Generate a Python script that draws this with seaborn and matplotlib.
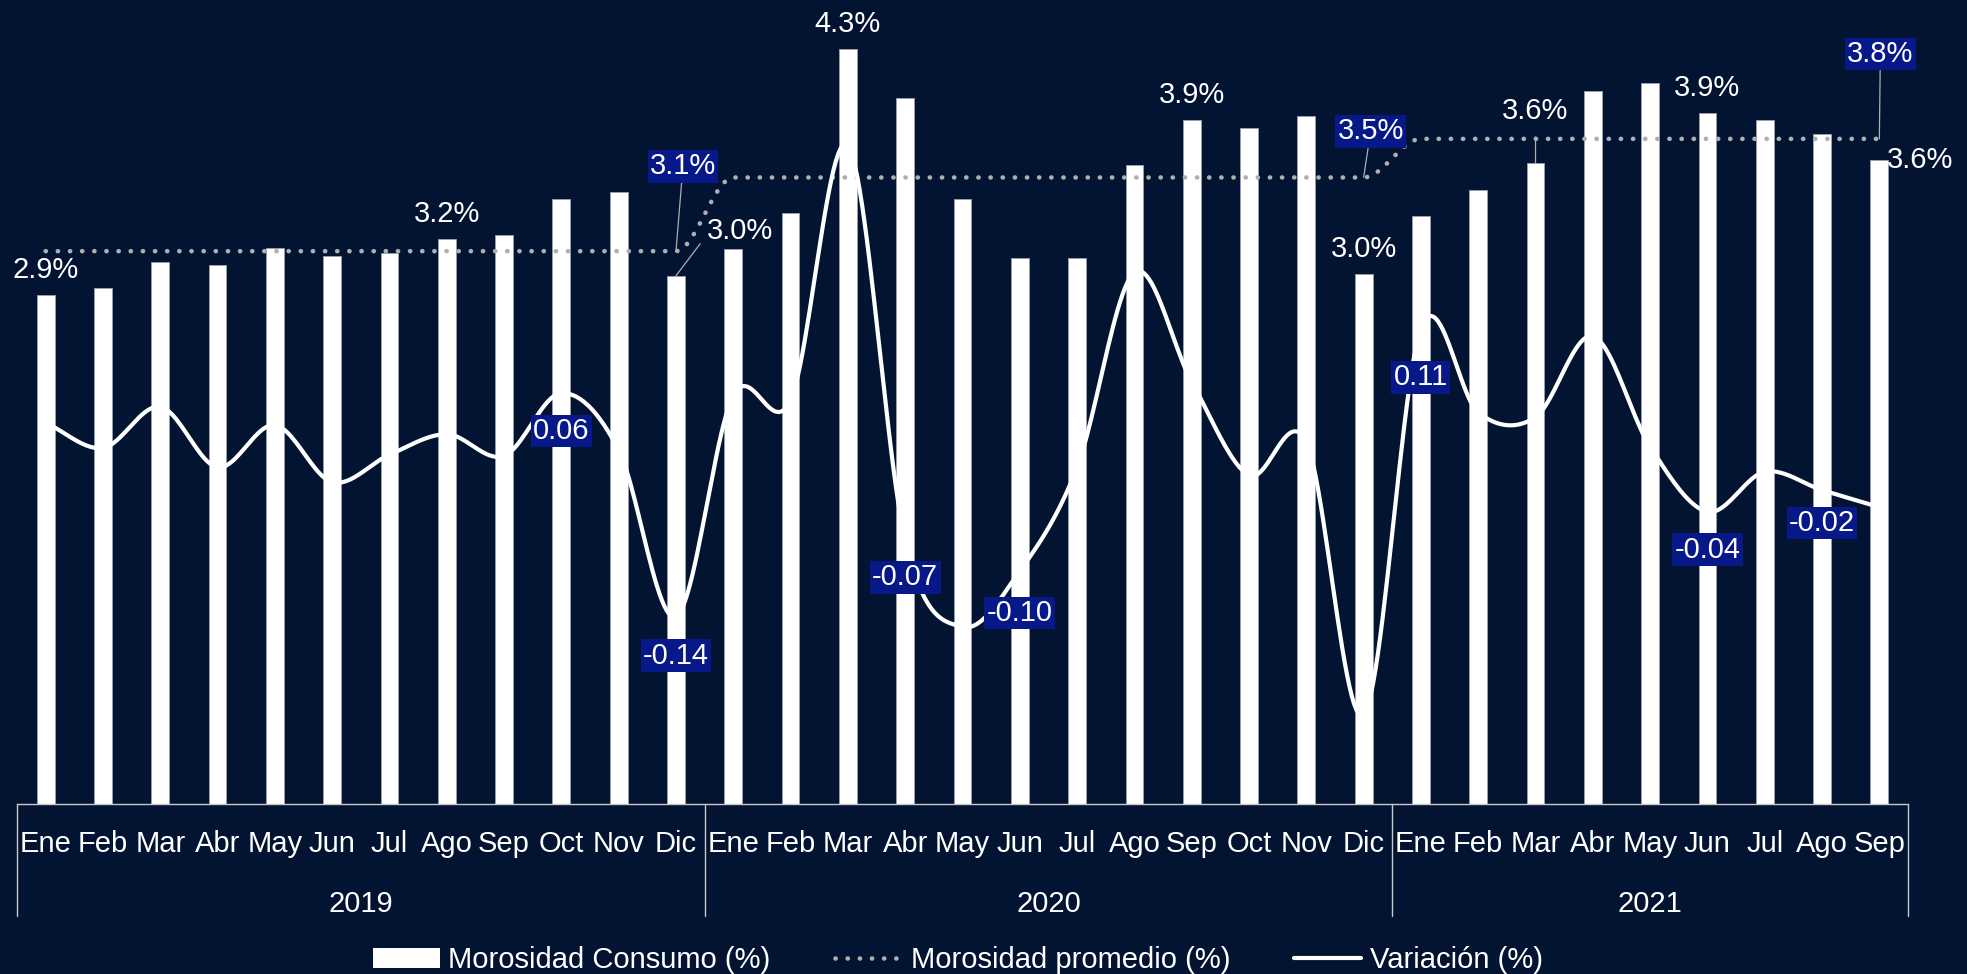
import numpy as np
import pandas as pd
import matplotlib as mpl
mpl.use('Agg')
import matplotlib.pyplot as plt
from matplotlib.patches import Patch
from matplotlib.lines import Line2D
import matplotlib.transforms as mtransforms
import seaborn as sns

# ------------------------------------------------------------------
# data
# ------------------------------------------------------------------
month_names = ['Ene', 'Feb', 'Mar', 'Abr', 'May', 'Jun',
               'Jul', 'Ago', 'Sep', 'Oct', 'Nov', 'Dic']
years = [2019, 2020, 2021]
months_per_year = [12, 12, 9]

morosidad = [2.90, 2.94, 3.09, 3.07, 3.17, 3.12, 3.14, 3.22, 3.24, 3.45, 3.49, 3.01,
             3.16, 3.37, 4.30, 4.02, 3.45, 3.11, 3.11, 3.64, 3.90, 3.85, 3.92, 3.02,
             3.35, 3.50, 3.65, 4.06, 4.11, 3.94, 3.90, 3.82, 3.67]
promedio_anual = [3.15, 3.57, 3.79]
variacion = [0.030, 0.008, 0.044, -0.009, 0.028, -0.022, 0.002, 0.020, 0.001, 0.056, 0.006, -0.140,
             0.054, 0.050, 0.273, -0.073, -0.149, -0.100, -0.009, 0.162, 0.066, -0.016, 0.013, -0.226,
             0.113, 0.039, 0.035, 0.106, 0.009, -0.048, -0.013, -0.029, -0.044]

# labels shown on the chart
bar_labels = {0: '2.9%', 7: '3.2%', 14: '4.3%', 20: '3.9%', 23: '3.0%', 29: '3.9%'}
avg_labels = {11: '3.1%', 23: '3.5%', 32: '3.8%'}
var_labels = {9: '0.06', 11: '-0.14', 15: '-0.07', 17: '-0.10',
              24: '0.11', 29: '-0.04', 31: '-0.02'}

# ------------------------------------------------------------------
# style
# ------------------------------------------------------------------
bg = '#021431'
box_blue = '#071888'
grey = '#b0aeae'
fs = 21

sns.set_style('white')
plt.rcParams['font.family'] = ['Liberation Sans', 'DejaVu Sans']


def hermite(xv, yv, tangents, n=24):
    xs, ys = [], []
    for i in range(len(xv) - 1):
        t = np.linspace(0, 1, n, endpoint=False)
        h00 = 2 * t**3 - 3 * t**2 + 1
        h10 = t**3 - 2 * t**2 + t
        h01 = -2 * t**3 + 3 * t**2
        h11 = t**3 - t**2
        xs.append(xv[i] + t * (xv[i + 1] - xv[i]))
        ys.append(h00 * yv[i] + h10 * tangents[i] + h01 * yv[i + 1] + h11 * tangents[i + 1])
    xs.append([xv[-1]])
    ys.append([yv[-1]])
    return np.concatenate(xs), np.concatenate(ys)


def catmull(yv):
    y = np.asarray(yv, float)
    m = np.zeros_like(y)
    m[1:-1] = (y[2:] - y[:-2]) / 2
    m[0] = y[1] - y[0]
    m[-1] = y[-1] - y[-2]
    return m


def monotone(yv):
    y = np.asarray(yv, float)
    d = np.diff(y)
    m = np.zeros_like(y)
    for i in range(1, len(y) - 1):
        if d[i - 1] * d[i] > 0:
            m[i] = 2 / (1 / d[i - 1] + 1 / d[i])
    return m


# ------------------------------------------------------------------
# table
# ------------------------------------------------------------------
year_col = np.repeat(years, months_per_year)
df = pd.DataFrame({
    'pos': np.arange(len(morosidad)),
    'mes': [month_names[i % 12] for i in range(len(morosidad))],
    'anio': year_col,
    'morosidad': morosidad,
    'variacion': variacion,
})
df['promedio'] = df['anio'].map(dict(zip(years, promedio_anual)))

# ------------------------------------------------------------------
# figure
# ------------------------------------------------------------------
W, H = 1967, 974
fig = plt.figure(figsize=(W / 100, H / 100), dpi=100, facecolor=bg)
ax = fig.add_axes([17 / W, 170 / H, 1891 / W, 804 / H])
ax.set_facecolor(bg)

sns.barplot(data=df, x='pos', y='morosidad', color='white', width=0.31,
            edgecolor='#9aa2b0', linewidth=0.6, saturation=1, ax=ax, zorder=2)

dots = (0, (0.05, 2.6))
sx, sy = hermite(df['pos'].values, df['promedio'].values, monotone(df['promedio'].values))
sns.lineplot(x=sx, y=sy, sort=False, estimator=None, color=grey, lw=3.3,
             linestyle=dots, dash_capstyle='round', ax=ax, zorder=3)

ax.set_xlim(-0.5, len(df) - 0.5)
ax.set_ylim(0, 804 / 175.5)
ax.set_xticks(df['pos'])
ax.set_xticklabels(df['mes'], color='white', fontsize=fs)
ax.tick_params(axis='x', length=0, pad=19)
ax.set_yticks([])
ax.set_xlabel('')
ax.set_ylabel('')
for s in ['top', 'left', 'right']:
    ax.spines[s].set_visible(False)
ax.spines['bottom'].set_color('#c8c8c8')
ax.spines['bottom'].set_linewidth(1)

# secondary axis for the variation
ax2 = ax.twinx()
vx, vy = hermite(df['pos'].values, df['variacion'].values, catmull(df['variacion'].values))
sns.lineplot(x=vx, y=vy, sort=False, estimator=None, color='white', lw=3.0, ax=ax2, zorder=4)
ax2.set_ylim(-(804 - 457) / 1140, 457 / 1140)
ax2.set_yticks([])
ax2.set_ylabel('')
for s in ax2.spines.values():
    s.set_visible(False)

# year groups under the month labels
trans = mtransforms.blended_transform_factory(ax.transData, ax.transAxes)
start = 0
bounds = [-0.5]
for yr, n in zip(years, months_per_year):
    ax.text(start + (n - 1) / 2, -0.134, str(yr), transform=trans, ha='center',
            va='baseline', color='white', fontsize=fs)
    start += n
    bounds.append(start - 0.5)
for b in bounds:
    ax.plot([b, b], [0, -0.1393], transform=trans, color='#c8c8c8', lw=1, clip_on=False)

# bar value labels
for i, txt in bar_labels.items():
    ax.annotate(txt, (i, morosidad[i]), xytext=(0, 17), textcoords='offset pixels',
                ha='center', va='baseline', color='white', fontsize=fs, zorder=6)
leader = dict(arrowstyle='-', color=grey, lw=0.9, shrinkA=0, shrinkB=0)
ax.annotate('3.0%', (11, morosidad[11]), xytext=(64, 37), textcoords='offset pixels',
            ha='center', va='baseline', color='white', fontsize=fs, zorder=6,
            arrowprops=dict(leader, relpos=(0, 0.35), shrinkA=4))
ax.annotate('3.6%', (26, morosidad[26]), xytext=(0, 44), textcoords='offset pixels',
            ha='center', va='baseline', color='white', fontsize=fs, zorder=6,
            arrowprops=dict(leader, shrinkA=6))
ax.annotate('3.6%', (32, morosidad[32]), xytext=(8, -8), textcoords='offset pixels',
            ha='left', va='baseline', color='white', fontsize=fs, zorder=6)

# average labels (boxed)
avg_offsets = {11: (7, 85), 23: (7, 46), 32: (1, 85)}
for i, txt in avg_labels.items():
    ax.annotate(txt, (i, df['promedio'][i]), xytext=avg_offsets[i], textcoords='offset pixels',
                ha='center', va='center', color='white', fontsize=fs, zorder=7,
                bbox=dict(boxstyle='square,pad=0.08', fc=box_blue, ec='none'),
                arrowprops=leader)

# variation labels (boxed)
var_offsets = {9: -38, 11: -39, 15: -37, 17: -42, 24: -49, 29: -38, 31: -33}
for i, txt in var_labels.items():
    ax2.annotate(txt, (i, variacion[i]), xytext=(0, var_offsets[i]), textcoords='offset pixels',
                 ha='center', va='center', color='white', fontsize=fs, zorder=7,
                 bbox=dict(boxstyle='square,pad=0.08', fc=box_blue, ec='none'))

# legend
handles = [Patch(facecolor='white', edgecolor='none'),
           Line2D([], [], color=grey, lw=3.3, linestyle=dots, dash_capstyle='round'),
           Line2D([], [], color='white', lw=3.0)]
labels = ['Morosidad Consumo (%)', 'Morosidad promedio (%)', 'Variación (%)']
fig.legend(handles, labels, loc='center', bbox_to_anchor=(0.487, 1 - 960 / H), ncol=3,
           frameon=False, fontsize=fs, labelcolor='white', handlelength=2.3,
           columnspacing=2.2, handletextpad=0.3)

fig.savefig('out.png', dpi=100, facecolor=bg)
